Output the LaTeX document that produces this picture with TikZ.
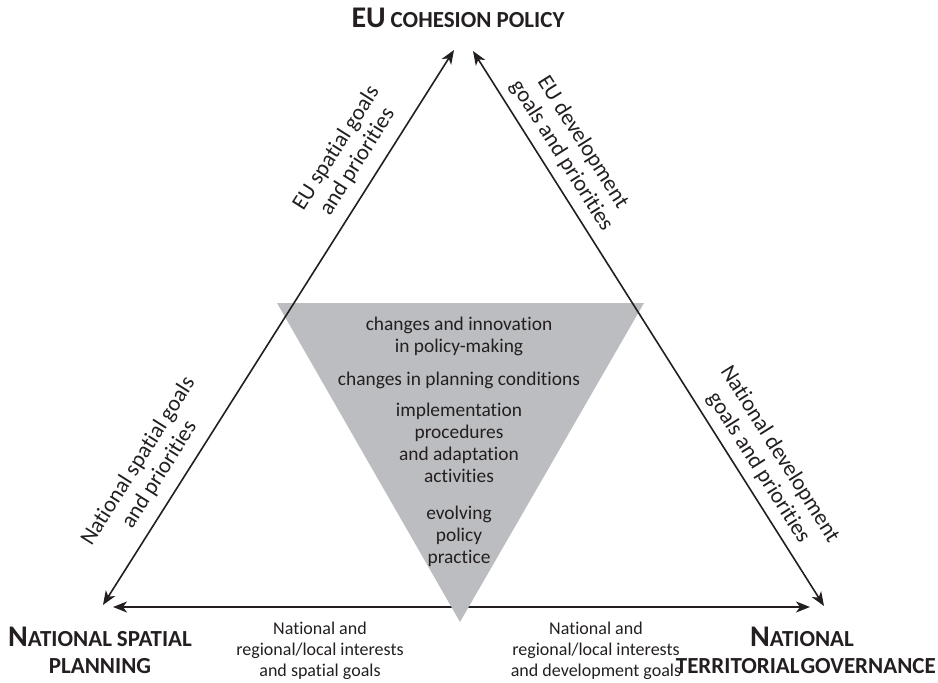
\documentclass[tikz,border=0pt]{standalone}
\usepackage{fontspec}
\setmainfont{Carlito}[Ligatures={NoCommon}]
\usetikzlibrary{arrows.meta}
\definecolor{ink}{HTML}{231F20}
\definecolor{greyfill}{HTML}{BCBDC0}
\newcommand\capA[1]{{\fontsize{30}{32}\selectfont #1}}
\newcommand\capB[1]{{\fontsize{23}{32}\selectfont #1}}
\begin{document}
\begin{tikzpicture}[x=1pt,y=-1pt,
  conn/.style={draw=ink,line width=1.6pt,{Stealth[length=14pt,width=11pt,inset=4pt]}-{Stealth[length=14pt,width=11pt,inset=4pt]}},
  lbl/.style={font=\fontsize{18}{21}\selectfont,align=center,text=ink,inner sep=0pt},
  rlbl/.style={font=\fontsize{22.5}{25}\selectfont,align=center,text=ink,inner sep=0pt},
  inlbl/.style={font=\fontsize{19.4}{22}\selectfont,align=center,text=ink,inner sep=0pt},
  head/.style={font=\bfseries,align=center,text=ink,inner sep=0pt}]
\useasboundingbox (0,0) rectangle (938,683);
% corners
\coordinate (LT) at (454,50);
\coordinate (LB) at (103,605);
\coordinate (RT) at (473,51);
\coordinate (RB) at (824,606);
\coordinate (BL) at (113,607);
\coordinate (BR) at (810,607);
% bottom connector first (under grey)
\draw[conn] (BL) -- (BR);
% inner inverted triangle
\coordinate (ITL) at (277,303);
\coordinate (ITR) at (644,303);
\coordinate (IB) at (460,622);
\fill[greyfill] (ITL) -- (ITR) -- (IB) -- cycle;
% side connectors
\draw[conn] (LT) -- (LB);
\draw[conn] (RT) -- (RB);
% headings
\node[head] (eu) at (458,18) {\capA{EU}\hspace{5pt}\capB{COHESION POLICY}};
\node[head,anchor=west] (nsp1) at (8,637) {\capA{N}\capB{ATIONAL\hspace{5pt}SPATIAL}};
\node[head] (nsp2) at (100,666) {\capB{PLANNING}};
\node[head] (ntg1) at (802,637) {\capA{N}\capB{ATIONAL}};
\node[head,anchor=east] (ntg2) at (936,666) {\capB{TERRITORIAL\hspace{1pt}GOVERNANCE}};
% side labels
\node[rlbl,rotate=57.7] (l1) at (347,155) {EU spatial goals\\and priorities};
\node[rlbl,rotate=-57.7] (l2) at (572,149) {EU development\\goals and priorities};
\node[rlbl,rotate=57.7] (l3) at (149,468) {National spatial goals\\and priorities};
\node[rlbl,rotate=-57.7] (l4) at (769,461) {National development\\goals and priorities};
% bottom labels
\node[lbl] (b1) at (320,651) {National and\\regional/local interests\\and spatial goals};
\node[lbl] (b2) at (596,651) {National and\\regional/local interests\\and development goals};
% inner labels
\node[inlbl] (i1) at (459,336) {changes and innovation\\in policy-making};
\node[inlbl] (i2) at (459,380) {changes in planning conditions};
\node[inlbl] (i3) at (459,443) {implementation\\procedures\\and adaptation\\activities};
\node[inlbl] (i4) at (459,536) {evolving\\policy\\practice};
\end{tikzpicture}
\end{document}
